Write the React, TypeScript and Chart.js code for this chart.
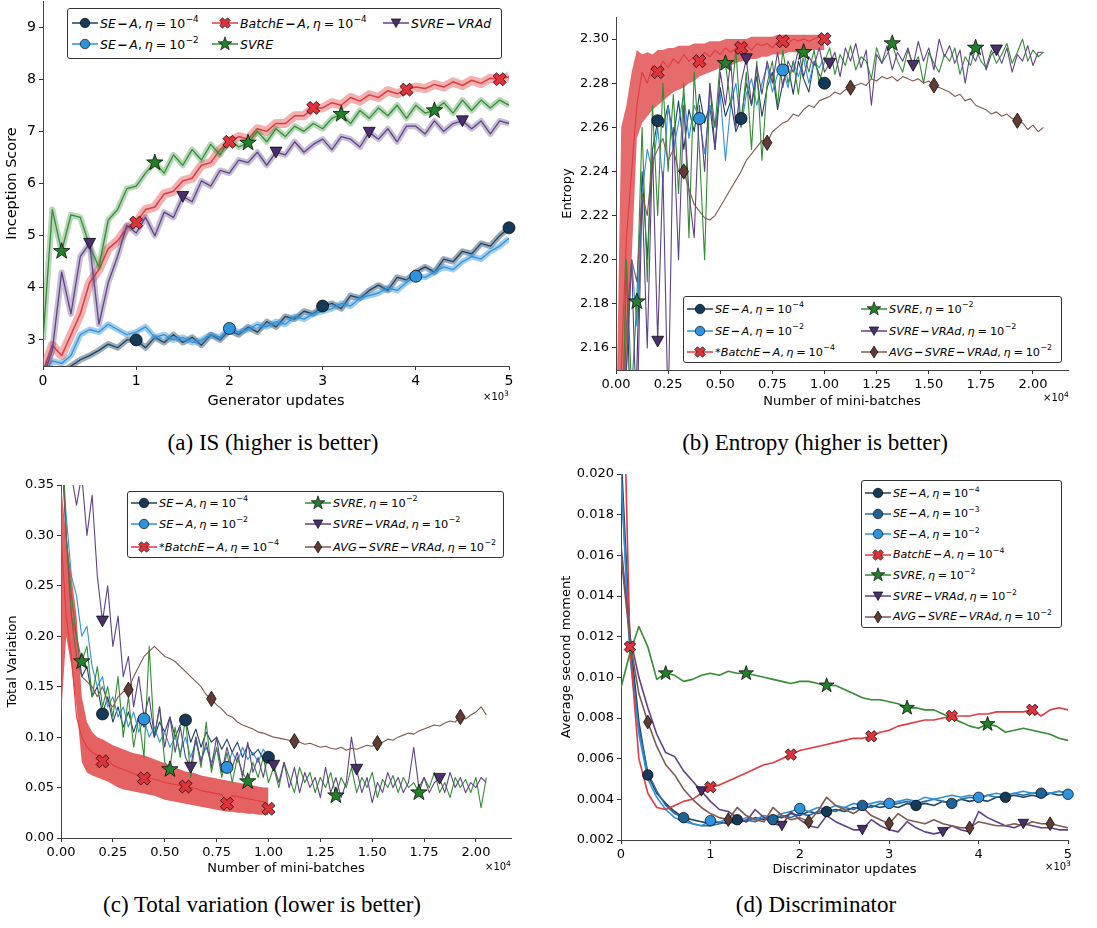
import React, { useEffect, useRef } from 'react';
import { Chart, registerables } from 'chart.js';

Chart.register(...registerables);

// ================= (a) Inception Score (x step = 100 generator updates) =================
const IS_STEP = 100;
const IS_XTICKS = [0, 1000, 2000, 3000, 4000, 5000];
const IS_YTICKS = [3, 4, 5, 6, 7, 8, 9];
const IS_SE_A_4 = [2.35, 2.45, 2.4, 2.5, 2.62, 2.7, 2.8, 2.92, 2.85, 3.0,
  3.0, 2.85, 3.05, 2.95, 3.1, 2.95, 3.05, 2.9, 3.1, 3.0,
  3.18, 3.1, 3.25, 3.15, 3.35, 3.25, 3.45, 3.4, 3.55, 3.5,
  3.65, 3.7, 3.6, 3.85, 3.8, 3.95, 4.05, 3.95, 4.2, 4.15,
  4.3, 4.4, 4.3, 4.55, 4.5, 4.7, 4.65, 4.85, 4.8, 5.0,
  5.15];
const IS_SE_A_2 = [2.3, 2.6, 2.55, 2.7, 3.1, 3.2, 3.15, 3.3, 3.2, 3.1,
  3.15, 3.25, 3.05, 3.1, 3.0, 3.05, 2.95, 3.0, 3.1, 3.05,
  3.22, 3.15, 3.2, 3.3, 3.25, 3.35, 3.3, 3.45, 3.4, 3.5,
  3.55, 3.6, 3.7, 3.65, 3.8, 3.85, 3.9, 4.0, 3.95, 4.1,
  4.22, 4.2, 4.3, 4.4, 4.35, 4.5, 4.6, 4.55, 4.7, 4.8,
  4.95];
const IS_BATCHE = [2.4, 2.9, 2.7, 3.1, 3.5, 4.1, 4.35, 4.75, 4.9, 5.15,
  5.25, 5.5, 5.55, 5.8, 5.85, 6.05, 6.1, 6.35, 6.4, 6.65,
  6.8, 6.9, 6.85, 7.05, 7.0, 7.15, 7.15, 7.3, 7.3, 7.45,
  7.45, 7.55, 7.5, 7.65, 7.58, 7.7, 7.65, 7.78, 7.72, 7.8,
  7.85, 7.82, 7.9, 7.85, 7.95, 7.88, 7.98, 7.92, 8.02, 8.0,
  8.05];
const IS_SVRE = [3.0, 5.5, 4.7, 5.4, 5.35, 4.8, 4.4, 5.3, 5.5, 5.9,
  5.95, 6.2, 6.4, 6.2, 6.55, 6.35, 6.65, 6.45, 6.75, 6.55,
  6.85, 6.7, 6.78, 7.0, 6.8, 7.05, 6.9, 7.1, 7.0, 7.15,
  7.05, 7.25, 7.33, 7.15, 7.4, 7.25, 7.45, 7.3, 7.5, 7.25,
  7.5, 7.35, 7.4, 7.55, 7.35, 7.6, 7.4, 7.6, 7.45, 7.6,
  7.5];
const IS_VRAD = [2.3, 2.8, 4.3, 3.5, 4.6, 4.85, 3.3, 4.1, 4.6, 5.2,
  5.05, 5.35, 5.0, 5.45, 5.35, 5.75, 5.65, 6.05, 5.95, 6.25,
  6.2, 6.45, 6.4, 6.6, 6.35, 6.6, 6.55, 6.8, 6.6, 6.75,
  6.85, 6.65, 6.9, 6.85, 6.7, 6.98, 6.85, 7.05, 6.8, 7.1,
  7.1, 6.95, 7.2, 7.0, 7.15, 7.2, 7.05, 7.2, 6.95, 7.2,
  7.15];
const IS_MK_SE4 = [10, 30, 50];
const IS_MK_SE2 = [20, 40];
const IS_MK_BATCH = [10, 20, 29, 39, 49];
const IS_MK_SVRE = [2, 12, 22, 32, 42];
const IS_MK_VRAD = [5, 15, 25, 35, 45];

// ================= (b) Entropy (x step = 250 mini-batches) =================
const ENT_STEP = 250;
const ENT_XTICKS = [0, 2500, 5000, 7500, 10000, 12500, 15000, 17500, 20000];
const ENT_YTICKS = [2.16, 2.18, 2.2, 2.22, 2.24, 2.26, 2.28, 2.3];
const ENT_SE_A_4 = [2.0, 2.1, 2.2, 2.1, 2.15, 2.24, 2.2, 2.25, 2.263, 2.26,
  2.27, 2.255, 2.272, 2.25, 2.268, 2.258, 2.275, 2.262, 2.27, 2.25,
  2.278, 2.265, 2.272, 2.258, 2.264, 2.28, 2.27, 2.283, 2.265, 2.278,
  2.285, 2.268, 2.28, 2.288, 2.275, 2.29, 2.282, 2.276, 2.29, 2.284,
  2.28];
const ENT_SE_A_2 = [2.0, 2.08, 2.15, 2.2, 2.17, 2.23, 2.25, 2.24, 2.26, 2.235,
  2.27, 2.25, 2.262, 2.275, 2.255, 2.27, 2.264, 2.248, 2.27, 2.26,
  2.275, 2.245, 2.27, 2.28, 2.26, 2.275, 2.282, 2.27, 2.28, 2.288,
  2.276, 2.284, 2.286, 2.278, 2.29, 2.283, 2.291, 2.28, 2.29, 2.287,
  2.292];
const ENT_BATCHE = [2.0, 2.15, 2.21, 2.24, 2.27, 2.285, 2.28, 2.288, 2.285, 2.29,
  2.287, 2.291, 2.289, 2.293, 2.29, 2.292, 2.29, 2.294, 2.292, 2.295,
  2.293, 2.296, 2.294, 2.296, 2.296, 2.297, 2.295, 2.298, 2.297, 2.298,
  2.296, 2.299, 2.299, 2.298, 2.3, 2.299, 2.3, 2.299, 2.3, 2.301,
  2.3];
const ENT_BATCHE_LO = [2.0, 2.1, 2.15, 2.2, 2.255, 2.262, 2.265, 2.268, 2.27, 2.272,
  2.274, 2.276, 2.277, 2.278, 2.28, 2.281, 2.283, 2.284, 2.285, 2.286,
  2.287, 2.288, 2.288, 2.289, 2.29, 2.29, 2.291, 2.291, 2.292, 2.292,
  2.293, 2.293, 2.293, 2.294, 2.294, 2.294, 2.295, 2.295, 2.295, 2.295,
  2.295];
const ENT_BATCHE_HI = [2.12, 2.26, 2.27, 2.285, 2.295, 2.293, 2.294, 2.293, 2.295, 2.295,
  2.296, 2.296, 2.297, 2.297, 2.297, 2.298, 2.298, 2.298, 2.299, 2.299,
  2.299, 2.3, 2.3, 2.3, 2.3, 2.3, 2.301, 2.301, 2.301, 2.301,
  2.301, 2.302, 2.302, 2.302, 2.302, 2.302, 2.302, 2.302, 2.302, 2.302,
  2.302];
const ENT_SVRE = [2.0, 2.1, 2.2, 2.14, 2.181, 2.26, 2.19, 2.27, 2.22, 2.28,
  2.24, 2.275, 2.23, 2.28, 2.21, 2.285, 2.25, 2.2, 2.28, 2.26,
  2.29, 2.289, 2.27, 2.295, 2.26, 2.285, 2.25, 2.29, 2.245, 2.28,
  2.29, 2.27, 2.295, 2.28, 2.29, 2.275, 2.294, 2.285, 2.295, 2.28,
  2.29, 2.296, 2.284, 2.293, 2.288, 2.297, 2.286, 2.292, 2.29, 2.282,
  2.296, 2.289, 2.293, 2.298, 2.29, 2.285, 2.295, 2.288, 2.292, 2.28,
  2.294, 2.289, 2.285, 2.293, 2.29, 2.296, 2.284, 2.292, 2.288, 2.296,
  2.29, 2.287, 2.295, 2.289, 2.293, 2.298, 2.289, 2.294, 2.3, 2.29,
  2.295, 2.292, 2.294];
const ENT_VRAD = [2.0, 2.1, 2.15, 2.2, 2.12, 2.23, 2.16, 2.25, 2.163, 2.24,
  2.13, 2.26, 2.2, 2.27, 2.23, 2.21, 2.27, 2.24, 2.28, 2.25,
  2.285, 2.27, 2.29, 2.26, 2.28, 2.291, 2.27, 2.288, 2.275, 2.29,
  2.28, 2.294, 2.278, 2.29, 2.285, 2.295, 2.283, 2.292, 2.288, 2.296,
  2.285, 2.289, 2.294, 2.283, 2.296, 2.29, 2.298, 2.287, 2.295, 2.27,
  2.293, 2.289, 2.297, 2.286, 2.294, 2.29, 2.296, 2.288, 2.299, 2.29,
  2.296, 2.286, 2.3, 2.292, 2.297, 2.289, 2.295, 2.28, 2.294, 2.29,
  2.297, 2.286, 2.293, 2.295, 2.289, 2.296, 2.285, 2.293, 2.29, 2.297,
  2.288, 2.294, 2.294];
const ENT_AVG = [2.0, 2.1, 2.17, 2.2, 2.19, 2.23, 2.22, 2.245, 2.25, 2.255,
  2.245, 2.25, 2.24, 2.24, 2.232, 2.225, 2.222, 2.219, 2.218, 2.22,
  2.224, 2.228, 2.232, 2.236, 2.24, 2.245, 2.248, 2.251, 2.254, 2.253,
  2.258, 2.26, 2.262, 2.263, 2.266, 2.265, 2.268, 2.27, 2.269, 2.272,
  2.273, 2.274, 2.276, 2.275, 2.277, 2.278, 2.279, 2.28, 2.279, 2.282,
  2.281, 2.283, 2.282, 2.283, 2.281, 2.283, 2.282, 2.281, 2.282, 2.28,
  2.281, 2.279, 2.278, 2.277, 2.276, 2.274, 2.275, 2.272, 2.273, 2.27,
  2.269, 2.268, 2.266, 2.267, 2.265, 2.266, 2.264, 2.263, 2.262, 2.259,
  2.261, 2.258, 2.26];
const ENT_MK_SE4 = [8, 24, 40];
const ENT_MK_SE2 = [16, 32];
const ENT_MK_BATCH = [8, 16, 24, 32, 40];
const ENT_MK_SVRE = [4, 21, 36, 53, 69];
const ENT_MK_VRAD = [8, 25, 41, 57, 73];
const ENT_MK_AVG = [13, 29, 45, 61, 77];

// ================= (c) Total variation (x step = 250 mini-batches) =================
const TV_STEP = 250;
const TV_XTICKS = [0, 2500, 5000, 7500, 10000, 12500, 15000, 17500, 20000];
const TV_YTICKS = [0, 0.05, 0.1, 0.15, 0.2, 0.25, 0.3, 0.35];
const TV_SE_A_4 = [0.4, 0.3, 0.22, 0.2, 0.16, 0.17, 0.14, 0.15, 0.123, 0.14,
  0.115, 0.13, 0.11, 0.125, 0.105, 0.12, 0.11, 0.118, 0.1, 0.115,
  0.105, 0.12, 0.1, 0.112, 0.117, 0.095, 0.108, 0.09, 0.105, 0.095,
  0.1, 0.088, 0.098, 0.085, 0.095, 0.08, 0.092, 0.082, 0.088, 0.078,
  0.08];
const TV_SE_A_2 = [0.38, 0.32, 0.26, 0.24, 0.2, 0.21, 0.17, 0.15, 0.16, 0.13,
  0.14, 0.12, 0.13, 0.11, 0.125, 0.105, 0.118, 0.1, 0.11, 0.095,
  0.105, 0.09, 0.1, 0.085, 0.1, 0.08, 0.095, 0.078, 0.09, 0.075,
  0.088, 0.072, 0.07, 0.085, 0.075, 0.09, 0.078, 0.085, 0.075, 0.088,
  0.08];
const TV_BATCHE = [0.3, 0.22, 0.18, 0.12, 0.1, 0.09, 0.085, 0.082, 0.076, 0.078,
  0.072, 0.07, 0.068, 0.066, 0.064, 0.062, 0.059, 0.06, 0.058, 0.057,
  0.055, 0.054, 0.053, 0.052, 0.051, 0.05, 0.049, 0.047, 0.046, 0.045,
  0.044, 0.043, 0.034, 0.042, 0.041, 0.04, 0.039, 0.038, 0.037, 0.036,
  0.029];
const TV_BATCHE_LO = [0.12, 0.2, 0.17, 0.13, 0.075, 0.065, 0.062, 0.06, 0.058, 0.056,
  0.053, 0.05, 0.048, 0.047, 0.046, 0.045, 0.044, 0.043, 0.042, 0.04,
  0.038, 0.037, 0.036, 0.035, 0.034, 0.033, 0.032, 0.031, 0.03, 0.029,
  0.028, 0.027, 0.026, 0.026, 0.025, 0.025, 0.024, 0.024, 0.023, 0.023,
  0.023];
const TV_BATCHE_HI = [0.35, 0.3, 0.26, 0.22, 0.14, 0.115, 0.105, 0.1, 0.098, 0.095,
  0.092, 0.09, 0.088, 0.086, 0.084, 0.083, 0.082, 0.08, 0.078, 0.076,
  0.074, 0.072, 0.07, 0.068, 0.066, 0.065, 0.064, 0.062, 0.061, 0.06,
  0.059, 0.058, 0.057, 0.056, 0.055, 0.054, 0.053, 0.052, 0.051, 0.05,
  0.05];
const TV_SVRE = [0.45, 0.3, 0.24, 0.2, 0.175, 0.19, 0.14, 0.17, 0.13, 0.15,
  0.12, 0.16, 0.1, 0.14, 0.09, 0.12, 0.08, 0.19, 0.1, 0.13,
  0.075, 0.068, 0.11, 0.08, 0.12, 0.06, 0.1, 0.07, 0.115, 0.065,
  0.09, 0.06, 0.085, 0.055, 0.08, 0.065, 0.056, 0.075, 0.06, 0.08,
  0.055, 0.07, 0.05, 0.075, 0.06, 0.045, 0.07, 0.055, 0.065, 0.045,
  0.06, 0.05, 0.065, 0.042, 0.06, 0.05, 0.07, 0.045, 0.06, 0.05,
  0.065, 0.04, 0.058, 0.05, 0.062, 0.045, 0.06, 0.05, 0.055, 0.045,
  0.06, 0.05, 0.065, 0.045, 0.055, 0.04, 0.06, 0.05, 0.058, 0.045,
  0.06, 0.03, 0.06];
const TV_VRAD = [0.4, 0.38, 0.36, 0.33, 0.36, 0.3, 0.34, 0.26, 0.215, 0.25,
  0.19, 0.22, 0.16, 0.18, 0.13, 0.16, 0.12, 0.14, 0.1, 0.13,
  0.09, 0.12, 0.085, 0.11, 0.08, 0.07, 0.1, 0.075, 0.095, 0.07,
  0.1, 0.065, 0.09, 0.07, 0.085, 0.06, 0.095, 0.065, 0.08, 0.06,
  0.085, 0.072, 0.055, 0.075, 0.05, 0.07, 0.045, 0.065, 0.05, 0.06,
  0.04, 0.07, 0.045, 0.06, 0.04, 0.055, 0.1, 0.068, 0.045, 0.06,
  0.035, 0.055, 0.045, 0.065, 0.05, 0.06, 0.045, 0.055, 0.09, 0.05,
  0.06, 0.045, 0.055, 0.059, 0.045, 0.065, 0.05, 0.06, 0.045, 0.055,
  0.05, 0.06, 0.055];
const TV_AVG = [0.4, 0.3, 0.22, 0.18, 0.16, 0.155, 0.15, 0.14, 0.15, 0.135,
  0.13, 0.14, 0.145, 0.147, 0.16, 0.17, 0.18, 0.185, 0.19, 0.185,
  0.18, 0.178, 0.175, 0.17, 0.165, 0.16, 0.155, 0.15, 0.142, 0.138,
  0.132, 0.128, 0.122, 0.12, 0.115, 0.112, 0.11, 0.108, 0.105, 0.104,
  0.102, 0.1, 0.099, 0.098, 0.097, 0.096, 0.095, 0.093, 0.094, 0.092,
  0.09, 0.091, 0.089, 0.088, 0.09, 0.087, 0.089, 0.088, 0.09, 0.092,
  0.091, 0.094, 0.095, 0.098, 0.097, 0.1, 0.102, 0.104, 0.103, 0.106,
  0.108, 0.11, 0.112, 0.111, 0.114, 0.116, 0.115, 0.12, 0.118, 0.122,
  0.125, 0.13, 0.122];
const TV_MK_SE4 = [8, 24, 40];
const TV_MK_SE2 = [16, 32];
const TV_MK_BATCH = [8, 16, 24, 32, 40];
const TV_MK_SVRE = [4, 21, 36, 53, 69];
const TV_MK_VRAD = [8, 25, 41, 57, 73];
const TV_MK_AVG = [13, 29, 45, 61, 77];

// ================= (d) Discriminator second moment (x step = 100 updates) =================
const SM_STEP = 100;
const SM_XTICKS = [0, 1000, 2000, 3000, 4000, 5000];
const SM_YTICKS = [0.002, 0.004, 0.006, 0.008, 0.01, 0.012, 0.014, 0.016, 0.018, 0.02];
const SM_SE_A_4 = [0.021, 0.012, 0.0078, 0.0052, 0.0043, 0.0038, 0.0034, 0.0031, 0.003, 0.0029,
  0.0028, 0.0029, 0.0028, 0.003, 0.0029, 0.0031, 0.003, 0.0032, 0.0031, 0.0033,
  0.0032, 0.0034, 0.0033, 0.0034, 0.0035, 0.0034, 0.0036, 0.0035, 0.0037, 0.0036,
  0.0037, 0.0036, 0.0038, 0.0037, 0.0038, 0.0037, 0.0039, 0.0038, 0.004, 0.0039,
  0.004, 0.0039, 0.0041, 0.0041, 0.0042, 0.0041, 0.0042, 0.0041, 0.0043, 0.0042,
  0.0043];
const SM_SE_A_3 = [0.02, 0.0115, 0.0075, 0.0053, 0.0044, 0.0037, 0.0033, 0.0031, 0.0028, 0.0027,
  0.0027, 0.0028, 0.0029, 0.0028, 0.003, 0.0029, 0.0031, 0.003, 0.0032, 0.0031,
  0.0033, 0.0032, 0.0034, 0.0035, 0.0034, 0.0036, 0.0035, 0.0037, 0.0036, 0.0038,
  0.0037, 0.0038, 0.0039, 0.0038, 0.0039, 0.004, 0.0039, 0.0038, 0.004, 0.0041,
  0.004, 0.0042, 0.0041, 0.0042, 0.0043, 0.0042, 0.0043, 0.0043, 0.0043, 0.0044,
  0.0043];
const SM_SE_A_2 = [0.02, 0.011, 0.0072, 0.005, 0.0041, 0.0035, 0.0031, 0.0029, 0.0028, 0.0027,
  0.00295, 0.0029, 0.003, 0.0029, 0.0031, 0.003, 0.0032, 0.0031, 0.0033, 0.0034,
  0.00355, 0.0034, 0.0036, 0.0035, 0.0037, 0.0036, 0.0038, 0.0037, 0.0038, 0.0039,
  0.0038, 0.0039, 0.004, 0.0039, 0.0041, 0.004, 0.0041, 0.0042, 0.0041, 0.0042,
  0.0041, 0.0042, 0.0043, 0.0042, 0.0043, 0.0044, 0.0043, 0.0044, 0.0043, 0.0044,
  0.00425];
const SM_BATCHE = [0.03, 0.0115, 0.006, 0.0043, 0.0036, 0.0035, 0.0037, 0.0039, 0.004, 0.0043,
  0.0046, 0.0047, 0.0049, 0.0051, 0.0053, 0.0055, 0.0057, 0.0058, 0.006, 0.0062,
  0.0064, 0.0065, 0.0066, 0.0067, 0.0068, 0.0069, 0.007, 0.007, 0.0071, 0.0073,
  0.0074, 0.0076, 0.0077, 0.0078, 0.0079, 0.0079, 0.008, 0.0081, 0.0081, 0.0081,
  0.0082, 0.0082, 0.0083, 0.0083, 0.0083, 0.0083, 0.0084, 0.0081, 0.0084, 0.0085,
  0.0084];
const SM_SVRE = [0.0095, 0.0112, 0.0125, 0.0115, 0.0099, 0.0102, 0.0101, 0.0098, 0.0099, 0.0101,
  0.0102, 0.0101, 0.0103, 0.0102, 0.0102, 0.0101, 0.01, 0.0099, 0.0098, 0.0097,
  0.0098, 0.0098, 0.0097, 0.0096, 0.0096, 0.0094, 0.0092, 0.009, 0.0089, 0.0089,
  0.0088, 0.0087, 0.0085, 0.0085, 0.0084, 0.0084, 0.0082, 0.008, 0.0078, 0.0076,
  0.0075, 0.0077, 0.0076, 0.0073, 0.0074, 0.0075, 0.0074, 0.0073, 0.0072, 0.007,
  0.0069];
const SM_VRAD = [0.0165, 0.012, 0.01, 0.0085, 0.0072, 0.0063, 0.0061, 0.0054, 0.0049, 0.0044,
  0.0039, 0.0035, 0.0034, 0.0031, 0.0029, 0.0035, 0.0031, 0.0028, 0.0027, 0.0034,
  0.003, 0.0027, 0.0026, 0.0032, 0.0029, 0.0027, 0.0025, 0.0025, 0.003, 0.0027,
  0.0025, 0.0024, 0.0029, 0.0026, 0.0024, 0.0023, 0.0024, 0.0027, 0.0025, 0.0024,
  0.0034, 0.0031, 0.0029, 0.0027, 0.0026, 0.0028, 0.0027, 0.0026, 0.0026, 0.0025,
  0.0025];
const SM_AVG = [0.016, 0.0118, 0.0092, 0.0078, 0.0066, 0.0057, 0.0052, 0.0045, 0.004, 0.0036,
  0.0033, 0.0031, 0.003, 0.0036, 0.0032, 0.003, 0.0029, 0.0036, 0.0032, 0.003,
  0.0031, 0.0029, 0.0034, 0.0041, 0.0037, 0.0035, 0.0033, 0.0036, 0.0032, 0.003,
  0.0028, 0.0033, 0.003, 0.0029, 0.0028, 0.003, 0.0028, 0.0027, 0.0026, 0.0026,
  0.0029, 0.0028, 0.0027, 0.0027, 0.0028, 0.0027, 0.0029, 0.0028, 0.0028, 0.0027,
  0.0026];
const SM_MK_SE4 = [3, 13, 23, 33, 43];
const SM_MK_SE3 = [7, 17, 27, 37, 47];
const SM_MK_SE2 = [10, 20, 30, 40, 50];
const SM_MK_BATCH = [1, 10, 19, 28, 37, 46];
const SM_MK_SVRE = [5, 14, 23, 32, 41];
const SM_MK_VRAD = [9, 18, 27, 36, 45];
const SM_MK_AVG = [3, 12, 21, 30, 39, 48];

// ================= styles =================
const FONT = "'DejaVu Sans', sans-serif";
const STY: any = {
  se4: { color: '#1d4262', fill: '#143a58', shape: 'circle', band: 'rgba(29,66,98,0.45)' },
  se3: { color: '#2a6d9e', fill: '#1f6296', shape: 'circle', band: 'rgba(42,109,158,0.4)' },
  se2: { color: '#3092da', fill: '#2e92dc', shape: 'circle', band: 'rgba(48,146,218,0.45)' },
  batch: { color: '#df3b40', fill: '#e0323a', shape: 'x', band: 'rgba(232,112,112,0.55)' },
  svre: { color: '#338d33', fill: '#23802a', shape: 'star', band: 'rgba(51,141,51,0.35)' },
  vrad: { color: '#5f4387', fill: '#4a2e6e', shape: 'tri', band: 'rgba(95,67,135,0.35)' },
  avg: { color: '#80594f', fill: '#623c33', shape: 'diamond', band: 'rgba(128,89,79,0.35)' },
};

function shapePath(shape: string, x: number, y: number, s: number): string {
  const r = s / 2;
  const f = (n: number) => n.toFixed(2);
  const poly = (pts: number[][]) => 'M' + pts.map((p) => f(x + p[0]) + ' ' + f(y + p[1])).join(' L') + ' Z';
  if (shape === 'circle') {
    return `M${f(x - r)} ${f(y)} A${f(r)} ${f(r)} 0 1 0 ${f(x + r)} ${f(y)} A${f(r)} ${f(r)} 0 1 0 ${f(x - r)} ${f(y)} Z`;
  }
  if (shape === 'x') {
    const R = r * 1.05, t = r * 0.37, c = Math.SQRT1_2;
    const base = [[t, R], [t, t], [R, t], [R, -t], [t, -t], [t, -R], [-t, -R], [-t, -t], [-R, -t], [-R, t], [-t, t], [-t, R]];
    return poly(base.map(([a, b]) => [(a - b) * c, (a + b) * c]));
  }
  if (shape === 'star') {
    const R = r * 1.15, ri = R * 0.4;
    const pts: number[][] = [];
    for (let k = 0; k < 10; k++) {
      const ang = -Math.PI / 2 + (k * Math.PI) / 5;
      const rr = k % 2 ? ri : R;
      pts.push([rr * Math.cos(ang), rr * Math.sin(ang)]);
    }
    return poly(pts);
  }
  if (shape === 'tri') return poly([[-r, -r * 0.85], [r, -r * 0.85], [0, r * 0.95]]);
  return poly([[0, -r * 1.1], [r * 0.68, 0], [0, r * 1.1], [-r * 0.68, 0]]);
}

const markerPlugin = {
  id: 'mk',
  afterDatasetsDraw(chart: any) {
    const ctx = chart.ctx;
    const list = chart.data.datasets.map((d: any, i: number) => ({ d, i })).filter((o: any) => o.d.mk);
    list.sort((a: any, b: any) => (b.d.order || 0) - (a.d.order || 0));
    ctx.save();
    for (const { d, i } of list) {
      const meta = chart.getDatasetMeta(i);
      for (const idx of d.mk.idx) {
        const el = meta.data[idx];
        if (!el) continue;
        const p = new Path2D(shapePath(d.mk.shape, el.x, el.y, d.mk.size));
        ctx.fillStyle = d.mk.fill;
        ctx.fill(p);
        ctx.lineWidth = 0.9;
        ctx.strokeStyle = 'rgba(0,0,0,0.8)';
        ctx.stroke(p);
      }
    }
    ctx.restore();
  },
};

function pts(ys: number[], step: number) {
  return ys.map((v, i) => ({ x: i * step, y: v }));
}

function lineDs(ys: number[], step: number, key: string, width: number, z: number, mkIdx: number[] | null, mkSize: any) {
  const s = STY[key];
  return {
    data: pts(ys, step), borderColor: s.color, borderWidth: width, pointRadius: 0, fill: false, order: -z,
    mk: mkIdx ? { idx: mkIdx, shape: s.shape, size: mkSize[s.shape], fill: s.fill } : undefined,
  };
}
function bandLine(ys: number[], step: number, key: string, width: number, z: number, color?: string) {
  return { data: pts(ys, step), borderColor: color || STY[key].band, borderWidth: width, pointRadius: 0, fill: false, order: -z };
}
function bandFill(lo: number[], hi: number[], step: number, color: string, z: number) {
  return [
    { data: pts(lo, step), borderWidth: 0, borderColor: 'rgba(0,0,0,0)', pointRadius: 0, fill: false, order: -z },
    { data: pts(hi, step), borderWidth: 0, borderColor: 'rgba(0,0,0,0)', pointRadius: 0, fill: '-1', backgroundColor: color, order: -z },
  ];
}

function axis(a: any, vertical: boolean) {
  return {
    type: 'linear', min: a.min, max: a.max,
    afterBuildTicks: (s: any) => { s.ticks = a.ticks.map((v: number) => ({ value: v })); },
    afterFit: (s: any) => {
      if (vertical) s.width = a.fit; else s.height = a.fit;
      s.paddingTop = 0; s.paddingBottom = 0; s.paddingLeft = 0; s.paddingRight = 0;
    },
    ticks: {
      callback: (v: number) => a.fmt(v), font: { family: FONT, size: a.tickSize }, color: '#000',
      padding: 3, autoSkip: false, maxRotation: 0, minRotation: 0,
    },
    grid: { drawOnChartArea: false, drawTicks: true, tickLength: 4, color: '#333', lineWidth: 1 },
    border: { display: true, color: '#444', width: 1 },
    title: { display: true, text: a.title, font: { family: FONT, size: a.titleSize }, color: '#000', padding: { top: 0, bottom: 0 } },
  };
}

function config(datasets: any[], x: any, y: any, pad: any) {
  return {
    type: 'line',
    data: { datasets },
    options: {
      animation: false, responsive: false, maintainAspectRatio: false, events: [],
      layout: { padding: pad },
      plugins: { legend: { display: false }, tooltip: { enabled: false } },
      elements: { point: { radius: 0, hoverRadius: 0 }, line: { tension: 0, borderJoinStyle: 'round' } },
      scales: { x: axis(x, false), y: axis(y, true) },
    },
    plugins: [markerPlugin],
  };
}

const MK_BIG = { circle: 12, x: 13, star: 15, tri: 12, diamond: 14 };
const MK_SMALL = { circle: 10.5, x: 11.5, star: 13.5, tri: 10.5, diamond: 12.5 };

function makeA() {
  const ds = [
    bandLine(IS_SE_A_4, IS_STEP, 'se4', 6, 0), lineDs(IS_SE_A_4, IS_STEP, 'se4', 1.3, 1, IS_MK_SE4, MK_BIG),
    bandLine(IS_SE_A_2, IS_STEP, 'se2', 6, 2), lineDs(IS_SE_A_2, IS_STEP, 'se2', 1.3, 3, IS_MK_SE2, MK_BIG),
    bandLine(IS_BATCHE, IS_STEP, 'batch', 9, 4), lineDs(IS_BATCHE, IS_STEP, 'batch', 1.5, 5, IS_MK_BATCH, MK_BIG),
    bandLine(IS_SVRE, IS_STEP, 'svre', 6, 6), lineDs(IS_SVRE, IS_STEP, 'svre', 1.3, 7, IS_MK_SVRE, MK_BIG),
    bandLine(IS_VRAD, IS_STEP, 'vrad', 6, 8), lineDs(IS_VRAD, IS_STEP, 'vrad', 1.3, 9, IS_MK_VRAD, MK_BIG),
  ];
  return config(ds,
    { min: 0, max: 5000, ticks: IS_XTICKS, fmt: (v: number) => String(v / 1000), title: 'Generator updates', tickSize: 14, titleSize: 14.5, fit: 44 },
    { min: 2.5, max: 9.5, ticks: IS_YTICKS, fmt: (v: number) => String(v), title: 'Inception Score', tickSize: 14, titleSize: 14.5, fit: 39 },
    { left: 4, top: 1, right: 36, bottom: 0 });
}

function makeB() {
  const ds = [
    lineDs(ENT_SE_A_4, ENT_STEP, 'se4', 1.1, 1, ENT_MK_SE4, MK_BIG),
    lineDs(ENT_SE_A_2, ENT_STEP, 'se2', 1.1, 2, ENT_MK_SE2, MK_BIG),
    ...bandFill(ENT_BATCHE_LO, ENT_BATCHE_HI, ENT_STEP, 'rgba(224,70,72,0.8)', 3),
    lineDs(ENT_BATCHE, ENT_STEP, 'batch', 1.1, 4, ENT_MK_BATCH, MK_BIG),
    lineDs(ENT_SVRE, ENT_STEP, 'svre', 1.1, 5, ENT_MK_SVRE, MK_BIG),
    lineDs(ENT_VRAD, ENT_STEP, 'vrad', 1.1, 6, ENT_MK_VRAD, MK_BIG),
    lineDs(ENT_AVG, ENT_STEP, 'avg', 1.1, 7, ENT_MK_AVG, MK_BIG),
  ];
  return config(ds,
    { min: 0, max: 21680, ticks: ENT_XTICKS, fmt: (v: number) => (v / 10000).toFixed(2), title: 'Number of mini-batches', tickSize: 13, titleSize: 13, fit: 39 },
    { min: 2.15, max: 2.31, ticks: ENT_YTICKS, fmt: (v: number) => v.toFixed(2), title: 'Entropy', tickSize: 13, titleSize: 13, fit: 56 },
    { left: 10, top: 17, right: 29, bottom: 0 });
}

function makeC() {
  const ds = [
    lineDs(TV_SE_A_4, TV_STEP, 'se4', 1.1, 1, TV_MK_SE4, MK_BIG),
    lineDs(TV_SE_A_2, TV_STEP, 'se2', 1.1, 2, TV_MK_SE2, MK_BIG),
    ...bandFill(TV_BATCHE_LO, TV_BATCHE_HI, TV_STEP, 'rgba(224,70,72,0.85)', 3),
    lineDs(TV_BATCHE, TV_STEP, 'batch', 1.1, 4, TV_MK_BATCH, MK_BIG),
    lineDs(TV_SVRE, TV_STEP, 'svre', 1.1, 5, TV_MK_SVRE, MK_BIG),
    lineDs(TV_VRAD, TV_STEP, 'vrad', 1.1, 6, TV_MK_VRAD, MK_BIG),
    lineDs(TV_AVG, TV_STEP, 'avg', 1.1, 7, TV_MK_AVG, MK_BIG),
  ];
  return config(ds,
    { min: 0, max: 21690, ticks: TV_XTICKS, fmt: (v: number) => (v / 10000).toFixed(2), title: 'Number of mini-batches', tickSize: 13, titleSize: 13, fit: 38 },
    { min: 0, max: 0.35, ticks: TV_YTICKS, fmt: (v: number) => v.toFixed(2), title: 'Total Variation', tickSize: 13, titleSize: 13, fit: 56 },
    { left: 5, top: 15, right: 34, bottom: 0 });
}

function makeD() {
  const ds = [
    lineDs(SM_SE_A_4, SM_STEP, 'se4', 1.6, 1, SM_MK_SE4, MK_SMALL),
    lineDs(SM_SE_A_3, SM_STEP, 'se3', 1.6, 2, SM_MK_SE3, MK_SMALL),
    lineDs(SM_SE_A_2, SM_STEP, 'se2', 1.6, 3, SM_MK_SE2, MK_SMALL),
    lineDs(SM_BATCHE, SM_STEP, 'batch', 1.6, 4, SM_MK_BATCH, MK_SMALL),
    lineDs(SM_SVRE, SM_STEP, 'svre', 1.6, 5, SM_MK_SVRE, MK_SMALL),
    lineDs(SM_VRAD, SM_STEP, 'vrad', 1.6, 6, SM_MK_VRAD, MK_SMALL),
    lineDs(SM_AVG, SM_STEP, 'avg', 1.6, 7, SM_MK_AVG, MK_SMALL),
  ];
  return config(ds,
    { min: 0, max: 5000, ticks: SM_XTICKS, fmt: (v: number) => String(v / 1000), title: 'Discriminator updates', tickSize: 13, titleSize: 13, fit: 37 },
    { min: 0.002, max: 0.02, ticks: SM_YTICKS, fmt: (v: number) => v.toFixed(3), title: 'Average second moment', tickSize: 13, titleSize: 13, fit: 62 },
    { left: 9, top: 14, right: 29, bottom: 0 });
}

function ChartCanvas({ left, top, width, height, make }: any) {
  const ref = useRef<HTMLCanvasElement>(null);
  useEffect(() => {
    const chart = new Chart(ref.current as any, make());
    return () => chart.destroy();
  }, []);
  return <canvas ref={ref} width={width} height={height} style={{ position: 'absolute', left, top, width, height }} />;
}

// ================= legend =================
function Label({ parts, exp, star }: any) {
  return (
    <span style={{ whiteSpace: 'nowrap' }}>
      {star ? <span>*</span> : null}
      {parts.map((p: string, i: number) => (
        <React.Fragment key={i}>
          {i > 0 ? <span style={{ fontWeight: 'bold', margin: '0 0.12em' }}>−</span> : null}
          <i>{p}</i>
        </React.Fragment>
      ))}
      {exp ? (
        <>
          <span>,</span>
          <i style={{ marginLeft: '0.22em' }}>η</i>
          <span style={{ margin: '0 0.25em' }}>=</span>
          <span>10</span>
          <span style={{ fontSize: '0.7em', position: 'relative', top: '-0.65em', marginLeft: '0.05em' }}>{exp}</span>
        </>
      ) : null}
    </span>
  );
}

const LEG_MK = { circle: 9.5, x: 10.5, star: 12.5, tri: 9.5, diamond: 11 };

function Legend({ box, items, colX, rowY, fontSize }: any) {
  return (
    <div style={{
      position: 'absolute', left: box[0], top: box[1], width: box[2], height: box[3], boxSizing: 'border-box',
      border: '1px solid #333', borderRadius: 3, background: '#fff', fontFamily: FONT, fontSize, color: '#000',
    }}>
      {items.map((it: any, k: number) => {
        const s = STY[it.key];
        return (
          <div key={k} style={{ position: 'absolute', left: colX[it.col] - 1, top: rowY[it.row] - 9, height: 18, display: 'flex', alignItems: 'center' }}>
            <svg width={26} height={14} style={{ flex: '0 0 auto', overflow: 'visible' }}>
              <line x1={0} y1={7} x2={26} y2={7} stroke={s.color} strokeWidth={1.5} />
              <path d={shapePath(s.shape, 13, 7, (LEG_MK as any)[s.shape])} fill={s.fill} stroke="rgba(0,0,0,0.8)" strokeWidth={0.8} />
            </svg>
            <span style={{ marginLeft: 2 }}><Label parts={it.parts} exp={it.exp} star={it.star} /></span>
          </div>
        );
      })}
    </div>
  );
}

const LEG_A = [
  { key: 'se4', parts: ['SE', 'A'], exp: '−4', col: 0, row: 0 },
  { key: 'se2', parts: ['SE', 'A'], exp: '−2', col: 0, row: 1 },
  { key: 'batch', parts: ['BatchE', 'A'], exp: '−4', col: 1, row: 0 },
  { key: 'svre', parts: ['SVRE'], exp: null, col: 1, row: 1 },
  { key: 'vrad', parts: ['SVRE', 'VRAd'], exp: null, col: 2, row: 0 },
];
const LEG_BC = [
  { key: 'se4', parts: ['SE', 'A'], exp: '−4', col: 0, row: 0 },
  { key: 'se2', parts: ['SE', 'A'], exp: '−2', col: 0, row: 1 },
  { key: 'batch', parts: ['BatchE', 'A'], exp: '−4', star: true, col: 0, row: 2 },
  { key: 'svre', parts: ['SVRE'], exp: '−2', col: 1, row: 0 },
  { key: 'vrad', parts: ['SVRE', 'VRAd'], exp: '−2', col: 1, row: 1 },
  { key: 'avg', parts: ['AVG', 'SVRE', 'VRAd'], exp: '−2', col: 1, row: 2 },
];
const LEG_D = [
  { key: 'se4', parts: ['SE', 'A'], exp: '−4', col: 0, row: 0 },
  { key: 'se3', parts: ['SE', 'A'], exp: '−3', col: 0, row: 1 },
  { key: 'se2', parts: ['SE', 'A'], exp: '−2', col: 0, row: 2 },
  { key: 'batch', parts: ['BatchE', 'A'], exp: '−4', col: 0, row: 3 },
  { key: 'svre', parts: ['SVRE'], exp: '−2', col: 0, row: 4 },
  { key: 'vrad', parts: ['SVRE', 'VRAd'], exp: '−2', col: 0, row: 5 },
  { key: 'avg', parts: ['AVG', 'SVRE', 'VRAd'], exp: '−2', col: 0, row: 6 },
];

function Exp({ left, top, e }: any) {
  return (
    <div style={{ position: 'absolute', left, top, fontFamily: FONT, fontSize: 10, color: '#000', whiteSpace: 'nowrap' }}>
      ×10<span style={{ fontSize: '0.75em', position: 'relative', top: '-0.5em' }}>{e}</span>
    </div>
  );
}

function Caption({ cx, cy, text }: any) {
  return (
    <div style={{
      position: 'absolute', left: cx - 250, top: cy - 14, width: 500, textAlign: 'center', lineHeight: '28px',
      fontFamily: "'Liberation Serif', 'Times New Roman', serif", fontSize: 23, color: '#000',
    }}>{text}</div>
  );
}

export default function App() {
  useEffect(() => {
    document.body.style.margin = '0';
    document.body.style.background = '#fff';
  }, []);
  return (
    <div style={{ position: 'relative', width: 1097, height: 928, background: '#fff', overflow: 'hidden' }}>
      <ChartCanvas left={0} top={0} width={545} height={410} make={makeA} />
      <ChartCanvas left={550} top={0} width={547} height={409} make={makeB} />
      <ChartCanvas left={0} top={470} width={545} height={406} make={makeC} />
      <ChartCanvas left={550} top={460} width={547} height={417} make={makeD} />

      <Legend box={[67, 8, 435, 51]} items={LEG_A} colX={[5, 145, 316]} rowY={[14, 35]} fontSize={12.5} />
      <Legend box={[683, 296, 379, 67]} items={LEG_BC} colX={[4, 178]} rowY={[12, 34, 55]} fontSize={11.3} />
      <Legend box={[127, 491, 377, 67]} items={LEG_BC} colX={[4, 178]} rowY={[11, 32, 55]} fontSize={11.3} />
      <Legend box={[861, 480, 201, 148]} items={LEG_D} colX={[4]} rowY={[12, 32.6, 53.2, 73.8, 94.4, 115, 135.6]} fontSize={11} />

      <Exp left={483} top={391} e="3" />
      <Exp left={1043} top={392} e="4" />
      <Exp left={485} top={861} e="4" />
      <Exp left={1045} top={861} e="3" />

      <Caption cx={273} cy={443} text="(a) IS (higher is better)" />
      <Caption cx={815} cy={443} text="(b) Entropy (higher is better)" />
      <Caption cx={262} cy={905} text="(c) Total variation (lower is better)" />
      <Caption cx={816} cy={905} text="(d) Discriminator" />
    </div>
  );
}
